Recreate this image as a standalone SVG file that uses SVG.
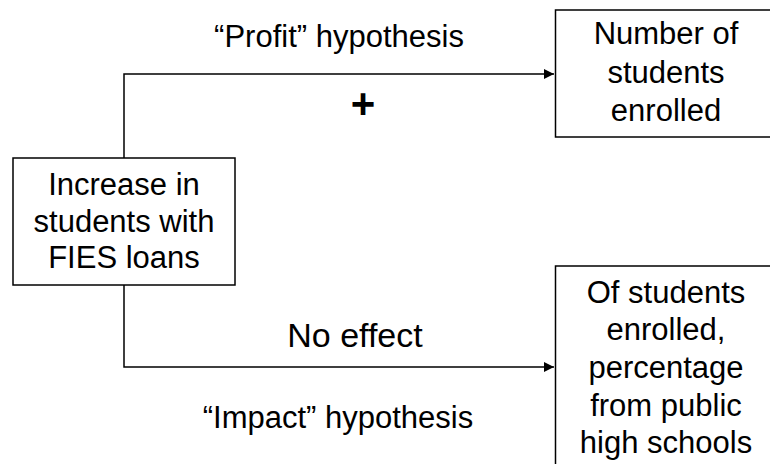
<svg xmlns="http://www.w3.org/2000/svg" width="770" height="464" viewBox="0 0 770 464">
<style>
text{font-family:"Liberation Sans",Arial,sans-serif;fill:#000;}
.t{font-size:31px;text-anchor:middle;}
.box{fill:#fff;stroke:#000;stroke-width:1.5;}
.ln{fill:none;stroke:#000;stroke-width:1.5;}
</style>
<defs>
<marker id="ah" viewBox="0 0 10 10" refX="10" refY="5" markerWidth="11" markerHeight="10" markerUnits="userSpaceOnUse" orient="auto">
<path d="M0,0 L10,5 L0,10 Z" fill="#000"/>
</marker>
</defs>
<rect width="770" height="464" fill="#fff"/>
<g id="connectors">
<path class="ln" d="M124,158 V74 H554" marker-end="url(#ah)"/>
<path class="ln" d="M124,285 V367 H554" marker-end="url(#ah)"/>
</g>
<g id="labels">
<text class="t" x="339" y="47">“Profit” hypothesis</text>
<text x="363" y="118" style="font-size:42px;font-weight:bold;text-anchor:middle">+</text>
<text class="t" x="355" y="347" style="font-size:34px">No effect</text>
<text class="t" x="338" y="428">“Impact” hypothesis</text>
</g>
<g id="source">
<rect class="box" x="13" y="158" width="222" height="127"/>
<text class="t" x="124" y="195">Increase in</text>
<text class="t" x="124" y="232">students with</text>
<text class="t" x="124" y="268">FIES loans</text>
</g>
<g id="enrolled">
<rect class="box" x="555.5" y="10" width="225" height="127"/>
<text class="t" x="666" y="44">Number of</text>
<text class="t" x="666" y="83">students</text>
<text class="t" x="666" y="121">enrolled</text>
</g>
<g id="public">
<rect class="box" x="555.5" y="266" width="225" height="210"/>
<text class="t" x="666" y="303">Of students</text>
<text class="t" x="666" y="340">enrolled,</text>
<text class="t" x="666" y="378">percentage</text>
<text class="t" x="666" y="416">from public</text>
<text class="t" x="666" y="453">high schools</text>
</g>
</svg>
